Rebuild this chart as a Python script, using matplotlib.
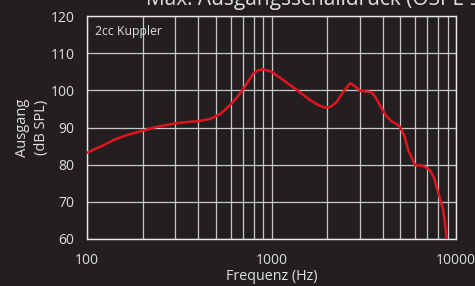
import matplotlib
matplotlib.use('Agg')
import matplotlib.pyplot as plt
from matplotlib.ticker import LogLocator, FixedLocator, NullFormatter

# values
freq = [100, 120, 139, 165, 199, 240, 300, 350, 400, 464, 526, 596, 650, 698, 750,
        798, 850, 900, 1000, 1155, 1370, 1617, 1800, 1955, 2100, 2255, 2450, 2667,
        2850, 3015, 3250, 3490, 3700, 3950, 4200, 4487, 4690, 4960, 5275, 5500,
        5830, 5990, 6650, 7210, 7600, 7930, 8530, 8900]
level = [83.2, 85.0, 86.6, 88.0, 89.1, 90.2, 91.1, 91.5, 91.7, 92.3, 93.6, 96.0,
         98.1, 100.1, 102.5, 104.6, 105.4, 105.7, 105.0, 102.8, 100.1, 97.4, 96.0,
         95.3, 95.6, 96.9, 99.6, 101.9, 101.0, 99.9, 99.7, 99.5, 97.8, 95.2, 93.0,
         91.6, 91.2, 90.2, 87.5, 84.0, 81.3, 79.9, 79.7, 78.6, 76.5, 73.2, 67.8, 60.2]

yticks = [60, 70, 80, 90, 100, 110, 120]
xticks = [100, 1000, 10000]

bg = '#231f20'
fg = '#e0e0e0'
plt.rcParams['font.family'] = ['Open Sans', 'DejaVu Sans']

fig = plt.figure(figsize=(4.75, 2.86), dpi=100, facecolor=bg)
ax = fig.add_axes([87 / 475, 1 - 239 / 286, (456 - 87) / 475, (239 - 16) / 286])
ax.set_facecolor(bg)

ax.plot(freq, level, color='#e3141f', lw=1.8, zorder=3)

ax.set_xscale('log')
ax.set_xlim(100, 10000)
ax.set_ylim(60, 120)
ax.xaxis.set_major_locator(FixedLocator(xticks))
ax.set_xticklabels([str(t) for t in xticks])
ax.xaxis.set_minor_locator(LogLocator(base=10, subs=range(2, 10)))
ax.xaxis.set_minor_formatter(NullFormatter())
ax.set_yticks(yticks)

ax.grid(True, which='both', axis='x', color='#c8c8c8', lw=0.9)
ax.grid(True, which='major', axis='y', color='#c8c8c8', lw=0.9)
for s in ax.spines.values():
    s.set_color('#e8e8e8')
    s.set_linewidth(1.0)

ax.tick_params(which='both', length=0, colors=fg, labelsize=10)
ax.tick_params(axis='x', pad=10)
ax.tick_params(axis='y', pad=9)

ax.set_xlabel('Frequenz (Hz)', color=fg, fontsize=10.3, labelpad=1)
ax.set_ylabel('Ausgang\n(dB SPL)', color=fg, fontsize=10.5, labelpad=1, linespacing=1.4)

ax.text(0.022, 0.93, '2cc Kuppler', transform=ax.transAxes, color=fg,
        fontsize=8.8, va='center', ha='left')

fig.text(146 / 475, 1 - 5 / 286, 'Max. Ausgangsschalldruck (OSPL 90)', color=fg,
         fontsize=15, ha='left', va='baseline')

fig.savefig('out.png', dpi=100, facecolor=bg)
